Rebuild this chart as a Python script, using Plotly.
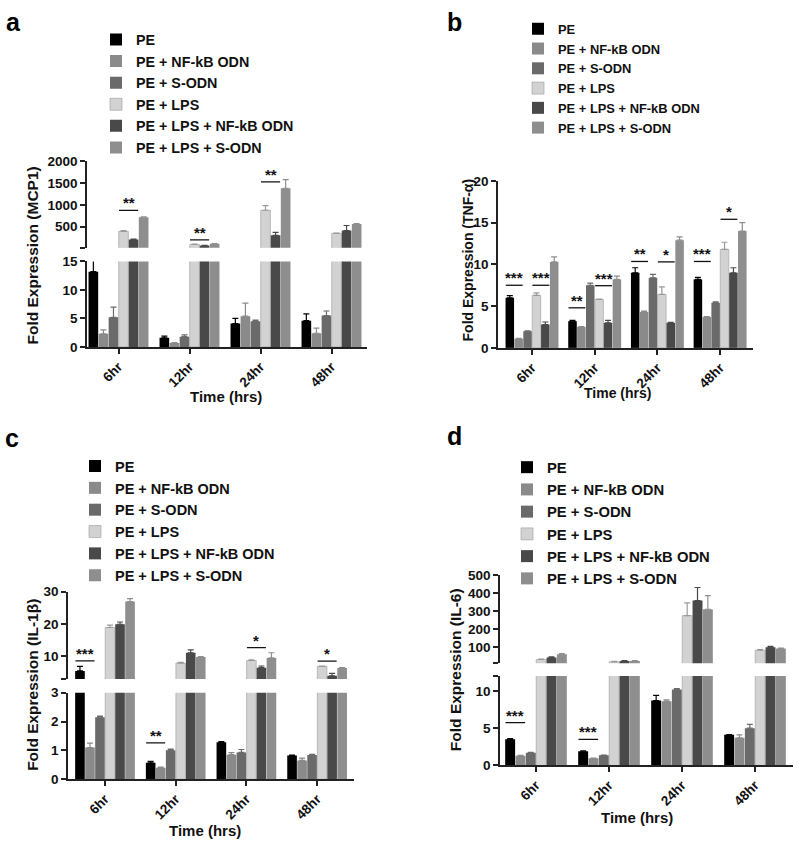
import plotly.graph_objects as go

W, H = 800, 853
FONT = "Liberation Sans, Arial, sans-serif"

categories = ["6hr", "12hr", "24hr", "48hr"]
series_names = ["PE", "PE + NF-kB ODN", "PE + S-ODN", "PE + LPS",
                "PE + LPS + NF-kB ODN", "PE + LPS + S-ODN"]
series_colors = ["#000000", "#8a8a8a", "#6a6a6a", "#d2d2d2", "#494949", "#8e8e8e"]
error_colors = ["#000000", "#8a8a8a", "#6a6a6a", "#9a9a9a", "#494949", "#8e8e8e"]

# Panel a: MCP1
mcp1_values = [
    [13.2, 1.6, 4.1, 4.6],
    [2.3, 0.7, 5.4, 2.4],
    [5.2, 1.8, 4.5, 5.5],
    [390, 90, 875, 345],
    [205, 65, 300, 410],
    [715, 105, 1380, 560],
]
mcp1_errors = [
    [2.1, 0.3, 0.9, 1.2],
    [0.7, 0.05, 2.3, 0.9],
    [1.8, 0.3, 0.2, 0.8],
    [15, 5, 105, 5],
    [8, 4, 65, 115],
    [10, 5, 200, 10],
]
# Panel b: TNF-alpha
tnf_values = [
    [6.0, 3.2, 9.0, 8.2],
    [1.1, 2.5, 4.3, 3.7],
    [2.0, 7.5, 8.4, 5.4],
    [6.3, 5.8, 6.4, 11.8],
    [2.8, 3.0, 3.0, 9.0],
    [10.3, 8.2, 12.9, 14.0],
]
tnf_errors = [
    [0.25, 0.1, 0.6, 0.25],
    [0.05, 0.05, 0.1, 0.05],
    [0.05, 0.25, 0.4, 0.1],
    [0.3, 0.05, 0.9, 0.85],
    [0.3, 0.3, 0.05, 0.6],
    [0.6, 0.4, 0.4, 1.0],
]
# Panel c: IL-1beta
il1b_values = [
    [5.5, 0.57, 1.28, 0.82],
    [1.1, 0.4, 0.85, 0.65],
    [2.15, 1.0, 0.93, 0.84],
    [18.9, 7.9, 8.7, 6.9],
    [19.9, 11.1, 6.5, 4.0],
    [26.9, 9.8, 9.5, 6.4],
]
il1b_errors = [
    [1.4, 0.05, 0.02, 0.02],
    [0.15, 0.02, 0.07, 0.08],
    [0.04, 0.04, 0.1, 0.02],
    [0.7, 0.2, 0.2, 0.1],
    [0.7, 0.9, 0.5, 0.7],
    [0.9, 0.1, 1.6, 0.1],
]
# Panel d: IL-6
il6_values = [
    [3.5, 1.9, 8.7, 4.1],
    [1.3, 0.95, 8.6, 3.7],
    [1.7, 1.35, 10.2, 5.0],
    [33, 20, 275, 84],
    [44, 24, 358, 100],
    [62, 24, 310, 93],
]
il6_errors = [
    [0.1, 0.05, 0.7, 0.05],
    [0.05, 0.03, 0.2, 0.4],
    [0.05, 0.05, 0.1, 0.5],
    [2, 2, 70, 3],
    [3, 3, 72, 6],
    [3, 3, 75, 3],
]

# significance marks: (category index, first bar, last bar, y level, segment, label)
mcp1_sig = [(0, 3, 4, 870, "upper", "**"), (1, 3, 4, 195, "upper", "**"),
            (2, 3, 4, 1526, "upper", "**")]
tnf_sig = [(0, 0, 1, 7.5, "lower", "***"), (0, 3, 4, 7.5, "lower", "***"),
           (1, 0, 1, 4.8, "lower", "**"), (1, 3, 4, 7.45, "lower", "***"),
           (2, 0, 1, 10.35, "lower", "**"), (2, 3, 4, 10.3, "lower", "*"),
           (3, 0, 1, 10.35, "lower", "***"), (3, 3, 4, 15.4, "lower", "*")]
il1b_sig = [(0, 0, 1, 8.56, "upper", "***"), (1, 0, 1, 1.26, "lower", "**"),
            (2, 3, 4, 12.7, "upper", "*"), (3, 3, 4, 8.5, "upper", "*")]
il6_sig = [(0, 0, 1, 5.75, "lower", "***"), (1, 0, 1, 3.5, "lower", "***")]

BARGAP = 0.15


def px_x(p):
    return p / W


def px_y(p):
    return 1 - p / H


panels = [
    dict(label="a", values=mcp1_values, errors=mcp1_errors, sig=mcp1_sig,
         ytitle="Fold Expression (MCP1)", tsize=15.5, xtsize=15,
         xdom=(87, 367), center0=118.5, step=71,
         lower=dict(dom=(346, 259), rng=(0, 15), tickvals=[0, 5, 10, 15], ticktext=["0", "5", "10", "15"]),
         upper=dict(dom=(245, 157), rng=(15, 2000), tickvals=[15, 500, 1000, 1500, 2000],
                    ticktext=["", "500", "1000", "1500", "2000"]),
         legend=dict(x=96, y=17, size=14.3),
         ytitle_pos=(33, 253), xtitle_pos=(226, 396), label_pos=(13, 15)),
    dict(label="b", values=tnf_values, errors=tnf_errors, sig=tnf_sig,
         ytitle="Fold Expression (TNF-α)", tsize=14, xtsize=14,
         xdom=(498, 753), center0=532, step=62.7,
         lower=dict(dom=(347, 177), rng=(0, 20), tickvals=[0, 5, 10, 15, 20], ticktext=["0", "5", "10", "15", "20"]),
         upper=None,
         legend=dict(x=518, y=7, size=12.9),
         ytitle_pos=(468, 258), xtitle_pos=(617, 393), label_pos=(454, 15)),
    dict(label="c", values=il1b_values, errors=il1b_errors, sig=il1b_sig,
         ytitle="Fold Expression (IL-1β)", tsize=15.5, xtsize=15,
         xdom=(68, 354), center0=105, step=70.7,
         lower=dict(dom=(786, 698), rng=(0, 3), tickvals=[0, 1, 2, 3], ticktext=["0", "1", "2", "3"]),
         upper=dict(dom=(684, 595), rng=(3, 30), tickvals=[3, 10, 20, 30], ticktext=["", "10", "20", "30"]),
         legend=dict(x=75, y=451, size=14.5),
         ytitle_pos=(33, 690), xtitle_pos=(205, 838), label_pos=(12, 439)),
    dict(label="d", values=il6_values, errors=il6_errors, sig=il6_sig,
         ytitle="Fold Expression (IL-6)", tsize=15.5, xtsize=15,
         xdom=(500, 793), center0=536, step=73,
         lower=dict(dom=(772, 681), rng=(0, 12), tickvals=[0, 5, 10, 12], ticktext=["0", "5", "10", ""]),
         upper=dict(dom=(668, 578), rng=(12, 500), tickvals=[12, 100, 200, 300, 400, 500],
                    ticktext=["", "100", "200", "300", "400", "500"]),
         legend=dict(x=507, y=452, size=14.8),
         ytitle_pos=(455, 675), xtitle_pos=(637, 825), label_pos=(454, 437)),
]

fig = go.Figure()
layout = dict(width=W, height=H, margin=dict(l=0, r=0, t=0, b=0),
              paper_bgcolor="white", plot_bgcolor="white",
              font=dict(family=FONT, color="#111111", weight="bold"),
              barmode="group", bargap=BARGAP, bargroupgap=0.04,
              showlegend=True)
annotations = []
shapes = []

axis_n = 0
AXCOL = "#222222"
TICKFONT = dict(size=13.5, family=FONT, weight="bold", color="#111")

legend_names = ["legend", "legend2", "legend3", "legend4"]

for pi, p in enumerate(panels):
    lo = (p["xdom"][0] - p["center0"]) / p["step"]
    hi = (p["xdom"][1] - p["center0"]) / p["step"]
    segs = [("lower", p["lower"])] + ([("upper", p["upper"])] if p["upper"] else [])
    seg_axes = {}
    for si, (segname, seg) in enumerate(segs):
        axis_n += 1
        suffix = "" if axis_n == 1 else str(axis_n)
        xref, yref = "x" + suffix, "y" + suffix
        seg_axes[segname] = (xref, yref)
        is_lower = segname == "lower"
        layout["xaxis" + suffix] = dict(
            domain=[px_x(p["xdom"][0]), px_x(p["xdom"][1])],
            anchor=yref, type="category", categoryorder="array", categoryarray=categories,
            range=[lo, hi], visible=is_lower, showline=True, linecolor=AXCOL, linewidth=1.5,
            ticks="outside", ticklen=5, tickwidth=1.5, tickcolor=AXCOL, tickangle=-45,
            ticklabelstandoff=0, tickfont=TICKFONT,
            showgrid=False, zeroline=False, fixedrange=True,
        )
        layout["yaxis" + suffix] = dict(
            domain=[px_y(seg["dom"][0]), px_y(seg["dom"][1])],
            anchor=xref, range=list(seg["rng"]), tickmode="array",
            tickvals=seg["tickvals"], ticktext=seg["ticktext"],
            showline=True, linecolor=AXCOL, linewidth=1.5,
            ticks="outside", ticklen=5, tickwidth=1.5, tickcolor=AXCOL,
            tickfont=TICKFONT,
            showgrid=False, zeroline=False, fixedrange=True,
        )
        low = seg["rng"][0]
        for k in range(6):
            vals = p["values"][k]
            if not is_lower:
                # only bars reaching into the upper segment are drawn there
                vals = [v if v > low else None for v in vals]
            fig.add_trace(go.Bar(
                x=categories, y=vals, name=series_names[k],
                xaxis=xref, yaxis=yref,
                marker=dict(color=series_colors[k],
                            line=dict(color="#9a9a9a", width=0.6 if k == 3 else 0)),
                error_y=dict(type="data", array=p["errors"][k], arrayminus=[0] * 4,
                             symmetric=False, color=error_colors[k], thickness=1.2, width=3),
                showlegend=is_lower, legend=legend_names[pi],
                legendgroup=f"{p['label']}{k}",
            ))
    # legend
    lg = p["legend"]
    layout[legend_names[pi]] = dict(
        x=px_x(lg["x"]), y=px_y(lg["y"]), xanchor="left", yanchor="top",
        bgcolor="rgba(0,0,0,0)", font=dict(size=lg["size"], family=FONT, weight="bold", color="#111"),
        itemwidth=30, traceorder="normal",
    )
    # significance marks
    w = (1 - BARGAP) / 6
    for (ci, b0, b1, yv, segname, txt) in p["sig"]:
        xref, yref = seg_axes[segname]
        x0 = ci + (b0 - 2.5) * w - 0.45 * w
        x1 = ci + (b1 - 2.5) * w + 0.45 * w
        shapes.append(dict(type="line", xref=xref, yref=yref, x0=x0, x1=x1, y0=yv, y1=yv,
                           line=dict(color="#111", width=1.3)))
        annotations.append(dict(xref=xref, yref=yref, x=(x0 + x1) / 2, y=yv, text=txt,
                                showarrow=False, yanchor="bottom", yshift=-3,
                                font=dict(size=15, family=FONT, weight="bold", color="#111")))
    # titles
    tx, ty = p["ytitle_pos"]
    annotations.append(dict(xref="paper", yref="paper", x=px_x(tx), y=px_y(ty), text=p["ytitle"],
                            textangle=-90, showarrow=False, xanchor="center", yanchor="middle",
                            font=dict(size=p["tsize"], family=FONT, weight="bold", color="#111")))
    tx, ty = p["xtitle_pos"]
    annotations.append(dict(xref="paper", yref="paper", x=px_x(tx), y=px_y(ty), text="Time (hrs)",
                            showarrow=False, xanchor="center", yanchor="middle",
                            font=dict(size=p["xtsize"], family=FONT, weight="bold", color="#111")))
    tx, ty = p["label_pos"]
    annotations.append(dict(xref="paper", yref="paper", x=px_x(tx), y=px_y(ty), text=p["label"],
                            showarrow=False, xanchor="center", yanchor="middle",
                            font=dict(size=25, family=FONT, weight="bold", color="#000")))

layout["annotations"] = annotations
layout["shapes"] = shapes
fig.update_layout(**layout)
fig.write_html("out.html", config={"displayModeBar": False},
               post_script="document.body.style.margin='0';document.body.style.padding='0';")
